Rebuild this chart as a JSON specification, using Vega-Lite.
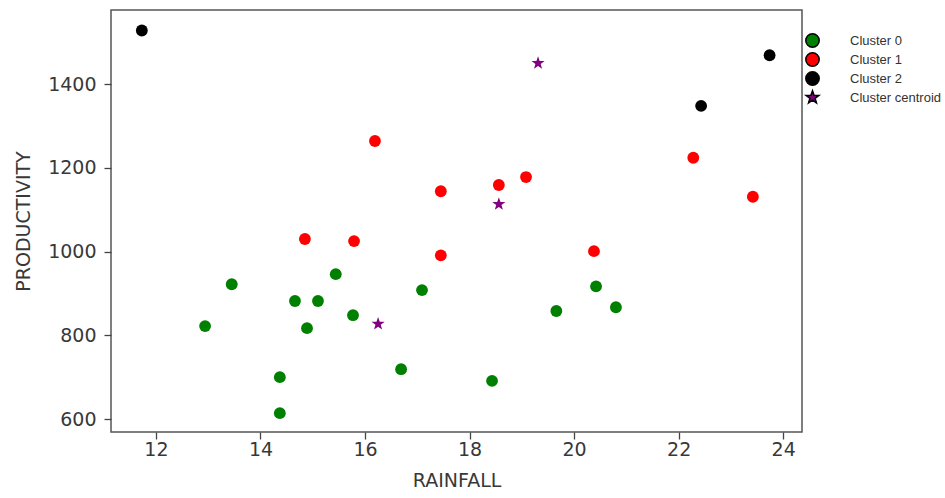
{
  "$schema": "https://vega.github.io/schema/vega-lite/v6.json",
  "width": 691,
  "height": 422,
  "autosize": {"type": "none"},
  "padding": {"left": 111, "top": 10, "right": 143, "bottom": 66},
  "background": "white",
  "config": {
    "view": {"stroke": "#555555", "strokeWidth": 1.5},
    "axis": {
      "grid": false,
      "domain": false,
      "tickColor": "#444444",
      "tickSize": 7,
      "tickWidth": 1.3,
      "labelFont": "DejaVu Sans",
      "labelFontSize": 19,
      "labelColor": "#383838",
      "titleFont": "DejaVu Sans",
      "titleFontSize": 19,
      "titleFontWeight": "normal",
      "titleColor": "#383838"
    }
  },
  "data": {
    "values": [
      {"rainfall": 11.73, "productivity": 1528, "label": "Cluster 2"},
      {"rainfall": 23.74, "productivity": 1469, "label": "Cluster 2"},
      {"rainfall": 22.43, "productivity": 1348, "label": "Cluster 2"},
      {"rainfall": 16.19, "productivity": 1264, "label": "Cluster 1"},
      {"rainfall": 17.45, "productivity": 1144, "label": "Cluster 1"},
      {"rainfall": 18.56, "productivity": 1159, "label": "Cluster 1"},
      {"rainfall": 19.08, "productivity": 1178, "label": "Cluster 1"},
      {"rainfall": 22.28, "productivity": 1224, "label": "Cluster 1"},
      {"rainfall": 23.42, "productivity": 1131, "label": "Cluster 1"},
      {"rainfall": 14.85, "productivity": 1030, "label": "Cluster 1"},
      {"rainfall": 15.79, "productivity": 1025, "label": "Cluster 1"},
      {"rainfall": 17.45, "productivity": 991, "label": "Cluster 1"},
      {"rainfall": 20.38, "productivity": 1001, "label": "Cluster 1"},
      {"rainfall": 13.45, "productivity": 922, "label": "Cluster 0"},
      {"rainfall": 12.94, "productivity": 822, "label": "Cluster 0"},
      {"rainfall": 14.66, "productivity": 882, "label": "Cluster 0"},
      {"rainfall": 15.10, "productivity": 882, "label": "Cluster 0"},
      {"rainfall": 14.89, "productivity": 817, "label": "Cluster 0"},
      {"rainfall": 15.44, "productivity": 946, "label": "Cluster 0"},
      {"rainfall": 15.77, "productivity": 848, "label": "Cluster 0"},
      {"rainfall": 17.09, "productivity": 908, "label": "Cluster 0"},
      {"rainfall": 16.69, "productivity": 719, "label": "Cluster 0"},
      {"rainfall": 14.37, "productivity": 700, "label": "Cluster 0"},
      {"rainfall": 14.37, "productivity": 614, "label": "Cluster 0"},
      {"rainfall": 18.43, "productivity": 691, "label": "Cluster 0"},
      {"rainfall": 19.66, "productivity": 858, "label": "Cluster 0"},
      {"rainfall": 20.42, "productivity": 917, "label": "Cluster 0"},
      {"rainfall": 20.80, "productivity": 867, "label": "Cluster 0"},
      {"rainfall": 19.31, "productivity": 1450, "label": "Cluster centroid"},
      {"rainfall": 18.56, "productivity": 1113, "label": "Cluster centroid"},
      {"rainfall": 16.25, "productivity": 827, "label": "Cluster centroid"}
    ]
  },
  "encoding": {
    "x": {
      "field": "rainfall",
      "type": "quantitative",
      "title": "RAINFALL",
      "scale": {"domain": [11.14, 24.36], "nice": false, "zero": false},
      "axis": {"values": [12, 14, 16, 18, 20, 22, 24], "labelPadding": 1, "titlePadding": 12}
    },
    "y": {
      "field": "productivity",
      "type": "quantitative",
      "title": "PRODUCTIVITY",
      "scale": {"domain": [569, 1577], "nice": false, "zero": false},
      "axis": {"values": [600, 800, 1000, 1200, 1400], "format": "d", "labelPadding": 8, "titlePadding": 14}
    },
    "color": {
      "field": "label",
      "type": "nominal",
      "title": null,
      "scale": {
        "domain": ["Cluster 0", "Cluster 1", "Cluster 2", "Cluster centroid"],
        "range": ["#008000", "#ff0000", "#000000", "#800080"]
      },
      "legend": {
        "orient": "none",
        "legendX": 694,
        "legendY": 23,
        "symbolSize": 180,
        "symbolStrokeColor": "#000000",
        "symbolStrokeWidth": 1.5,
        "labelFont": "Liberation Sans",
        "labelFontSize": 13,
        "labelColor": "#333333",
        "labelOffset": 30,
        "rowPadding": -2
      }
    },
    "shape": {
      "field": "label",
      "type": "nominal",
      "scale": {
        "domain": ["Cluster 0", "Cluster 1", "Cluster 2", "Cluster centroid"],
        "range": ["circle", "circle", "circle", "M0,-1L0.235,-0.324L0.951,-0.309L0.38,0.124L0.588,0.809L0,0.4L-0.588,0.809L-0.38,0.124L-0.951,-0.309L-0.235,-0.324Z"]
      }
    }
  },
  "layer": [
    {
      "transform": [{"filter": "datum.label !== 'Cluster centroid'"}],
      "mark": {"type": "point", "filled": true, "opacity": 1, "size": 140}
    },
    {
      "transform": [{"filter": "datum.label === 'Cluster centroid'"}],
      "mark": {"type": "point", "filled": true, "opacity": 1, "size": 190}
    }
  ]
}
